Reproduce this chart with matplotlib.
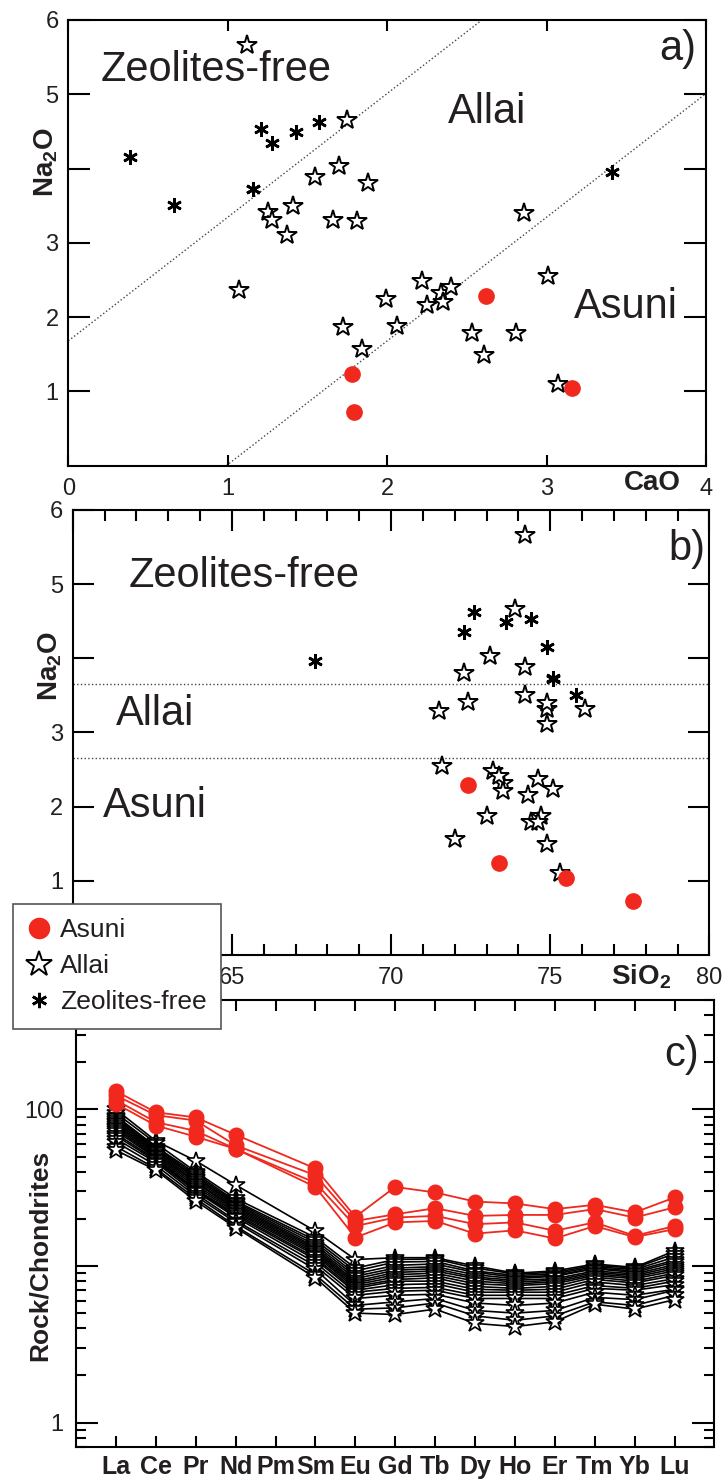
import numpy as np
import matplotlib.pyplot as plt
from matplotlib.lines import Line2D
from matplotlib.ticker import FixedLocator, MultipleLocator, LogLocator, NullFormatter

plt.rcParams['font.family'] = ['Liberation Sans', 'DejaVu Sans']

RED = '#f0281e'
INK = '#231f20'

# ---- panel a / b data (one entry per sample) ----
asuni_cao = [1.78, 1.79, 2.62, 3.16]
asuni_sio2 = [73.4, 77.6, 72.4, 75.5]
asuni_na2o = [1.24, 0.73, 2.29, 1.04]

allai_cao = [1.12, 1.75, 1.70, 1.55, 1.88, 1.25, 1.28, 1.41, 1.66, 1.81, 1.37, 1.07, 2.86, 3.01,
             2.22, 1.99, 2.25, 2.34, 2.35, 2.40, 1.72, 2.06, 1.84, 2.53, 2.81, 2.61, 3.07]
allai_sio2 = [74.2, 73.9, 73.1, 74.2, 72.3, 72.4, 74.9, 74.2, 76.1, 71.5, 74.9, 74.6, 74.9, 71.6,
              73.2, 75.1, 74.3, 73.5, 73.5, 73.4, 73.0, 74.7, 72.0, 74.4, 74.6, 74.9, 75.3]
allai_na2o = [5.66, 4.66, 4.03, 3.88, 3.80, 3.41, 3.31, 3.50, 3.31, 3.29, 3.11, 2.37, 3.40, 2.55,
              2.48, 2.24, 2.16, 2.32, 2.21, 2.41, 1.87, 1.88, 1.57, 1.79, 1.79, 1.49, 1.10]

zeo_cao = [0.39, 0.66, 1.16, 1.16, 1.21, 1.28, 1.43, 1.57, 3.41]
zeo_sio2 = [74.9, 75.8, 75.1, 75.1, 74.4, 72.3, 73.6, 72.6, 67.6]
zeo_na2o = [4.15, 3.51, 3.72, 3.73, 4.53, 4.35, 4.49, 4.63, 3.96]

# boundaries
bound_slope = 1.665
bound_a_upper = 1.68
bound_a_lower = -1.65
bound_b = [3.65, 2.65]

# ---- panel c data (chondrite normalised REE) ----
ree = ['La', 'Ce', 'Pr', 'Nd', 'Pm', 'Sm', 'Eu', 'Gd', 'Tb', 'Dy', 'Ho', 'Er', 'Tm', 'Yb', 'Lu']
ree_measured = [e for e in ree if e != 'Pm']

asuni_ree = [
    [131, 96, 89, 69, 42, 20.6, 32.0, 29.5, 25.8, 25.1, 23.1, 24.6, 22.0, 27.4],
    [123, 92, 85, 59, 38, 19.4, 21.4, 23.4, 20.9, 21.2, 21.2, 23.1, 20.4, 23.7],
    [115, 83, 73, 56, 34, 18.0, 20.4, 20.9, 18.5, 19.0, 16.8, 19.0, 15.6, 18.0],
    [109, 79, 67, 56, 32, 15.2, 19.0, 19.4, 16.1, 16.9, 15.0, 18.0, 15.3, 17.2],
]

allai_ree = [
    [100, 63, 47, 33, 16.7, 11.0, 11.3, 11.3, 10.0, 9.0, 9.3, 10.3, 9.8, 12.5],
    [95, 61, 40, 27, 15.2, 9.7, 11.0, 11.1, 9.7, 8.9, 9.1, 10.1, 9.7, 12.0],
    [91, 58, 39, 26, 14.6, 9.3, 10.6, 10.7, 9.3, 8.7, 8.9, 9.9, 9.5, 11.4],
    [89, 57, 38, 25.5, 14.1, 8.9, 10.1, 10.3, 9.1, 8.5, 8.7, 9.7, 9.3, 10.9],
    [87, 56, 37, 25, 13.6, 8.6, 9.7, 9.9, 8.8, 8.3, 8.6, 9.6, 9.1, 10.6],
    [85, 55, 36.5, 24.5, 13.2, 8.3, 9.4, 9.6, 8.5, 8.1, 8.3, 9.3, 8.9, 10.2],
    [83, 54, 35.5, 24, 12.9, 8.0, 9.1, 9.3, 8.3, 7.9, 8.1, 9.1, 8.7, 9.9],
    [81, 53, 34.5, 23.5, 12.6, 7.8, 8.8, 9.0, 8.0, 7.7, 7.9, 8.9, 8.5, 9.6],
    [79, 52, 34, 23, 12.3, 7.6, 8.5, 8.7, 7.7, 7.5, 7.7, 8.7, 8.3, 9.3],
    [77, 51, 33, 22.5, 12.0, 7.4, 8.2, 8.4, 7.4, 7.2, 7.4, 8.5, 8.0, 9.0],
    [75, 50, 32, 22, 11.7, 7.2, 8.0, 8.0, 7.1, 7.0, 7.1, 8.2, 7.8, 8.7],
    [73, 49, 31, 21.5, 11.3, 7.0, 7.6, 7.7, 6.8, 6.8, 6.8, 7.9, 7.5, 8.3],
    [70, 48, 30.5, 21, 11.0, 6.8, 7.2, 7.3, 6.5, 6.5, 6.5, 7.5, 7.2, 8.0],
    [68, 47, 30, 20.5, 10.5, 6.5, 6.9, 7.0, 6.2, 6.2, 6.2, 7.2, 7.0, 7.6],
    [65, 46, 29, 19.5, 10.0, 6.2, 6.5, 6.6, 5.8, 5.6, 5.8, 6.8, 6.5, 7.1],
    [62, 44, 28, 19, 9.5, 5.6, 5.9, 6.2, 5.2, 5.0, 5.2, 6.3, 6.1, 7.0],
    [58, 42, 27, 18, 8.8, 5.3, 5.4, 5.8, 4.8, 4.5, 4.8, 5.9, 5.6, 6.5],
    [55, 41, 26, 17.6, 8.4, 5.0, 4.9, 5.3, 4.3, 4.1, 4.4, 5.7, 5.3, 6.1],
]

fig = plt.figure(figsize=(7.25, 14.79), dpi=100)


def style_axes(ax):
    for s in ax.spines.values():
        s.set_linewidth(1.5)
    ax.tick_params(which='both', direction='in', top=True, right=True, width=1.5,
                   labelsize=17, labelcolor=INK)


star_kw = dict(ls='none', marker='*', ms=14.5, mfc='white', mec='black', mew=1.4)
ast_kw = dict(ls='none', marker=(6, 2, 0), ms=10.5, mec='black', mew=1.9)
dot_kw = dict(ls='none', marker='o', ms=11, mfc=RED, mec=RED)

# ---------------- a) ----------------
ax = fig.add_axes([0.0942, 0.6851, 0.8796, 0.3014])
style_axes(ax)
ax.axline((0, bound_a_upper), slope=bound_slope, ls=':', color='#444444', lw=1)
ax.axline((0, bound_a_lower), slope=bound_slope, ls=':', color='#444444', lw=1)
ax.plot(allai_cao, allai_na2o, **star_kw)
ax.plot(zeo_cao, zeo_na2o, **ast_kw)
ax.plot(asuni_cao, asuni_na2o, **dot_kw)
ax.set_xlim(0, 4)
ax.set_ylim(0, 6)
ax.set_xticks([0, 1, 2, 3, 4])
ax.set_yticks([1, 2, 3, 4, 5, 6])
ax.set_yticklabels(['1', '2', '3', '', '5', '6'])
ax.tick_params(axis='x', length=8, pad=9)
ax.tick_params(axis='y', length=16, pad=7)
ax.text(0.051, 0.862, 'Zeolites-free', transform=ax.transAxes, fontsize=30, color=INK, va='baseline')
ax.text(0.595, 0.768, 'Allai', transform=ax.transAxes, fontsize=30, color=INK, va='baseline')
ax.text(0.793, 0.331, 'Asuni', transform=ax.transAxes, fontsize=30, color=INK, va='baseline')
ax.text(0.927, 0.910, 'a)', transform=ax.transAxes, fontsize=30, color=INK, va='baseline')
fig.text(652 / 725, 1 - 483 / 1479, 'CaO', ha='center', va='center', fontsize=20,
         fontweight='bold', color=INK)
fig.text(46 / 725, 1 - 162 / 1479, r'Na$_\mathregular{2}$O', ha='center', va='center',
         rotation=90, fontsize=20, fontweight='bold', color=INK)

# ---------------- b) ----------------
ax = fig.add_axes([0.1003, 0.3543, 0.8783, 0.3009])
style_axes(ax)
for yb in bound_b:
    ax.axhline(yb, ls=':', color='#444444', lw=1)
ax.plot(allai_sio2, allai_na2o, **star_kw)
ax.plot(zeo_sio2, zeo_na2o, **ast_kw)
ax.plot(asuni_sio2, asuni_na2o, **dot_kw)
ax.set_xlim(60, 80)
ax.set_ylim(0, 6)
ax.set_xticks([60, 65, 70, 75, 80])
ax.set_xticklabels(['', '65', '70', '75', '80'])
ax.xaxis.set_minor_locator(MultipleLocator(1))
ax.set_yticks([1, 2, 3, 4, 5, 6])
ax.set_yticklabels(['1', '2', '3', '', '5', '6'])
ax.tick_params(axis='x', which='major', length=15, pad=9)
ax.tick_params(axis='x', which='minor', length=7.7)
ax.tick_params(axis='y', length=15, pad=7)
ax.text(0.088, 0.828, 'Zeolites-free', transform=ax.transAxes, fontsize=30, color=INK, va='baseline')
ax.text(0.0675, 0.517, 'Allai', transform=ax.transAxes, fontsize=30, color=INK, va='baseline')
ax.text(0.047, 0.311, 'Asuni', transform=ax.transAxes, fontsize=30, color=INK, va='baseline')
ax.text(0.936, 0.888, 'b)', transform=ax.transAxes, fontsize=30, color=INK, va='baseline')
fig.text(641 / 725, 1 - 977 / 1479, r'SiO$_\mathregular{2}$', ha='center', va='center', fontsize=20,
         fontweight='bold', color=INK)
fig.text(50 / 725, 1 - 666 / 1479, r'Na$_\mathregular{2}$O', ha='center', va='center',
         rotation=90, fontsize=20, fontweight='bold', color=INK)

# ---------------- c) ----------------
ax = fig.add_axes([0.1048, 0.0218, 0.8807, 0.3020])
style_axes(ax)
ax.set_yscale('log')
xpos = [ree.index(e) + 1 for e in ree_measured]
for row in allai_ree:
    ax.plot(xpos, row, color='black', lw=1.2, marker='*', ms=13.5, mfc='white', mec='black', mew=1.2)
for row in asuni_ree:
    ax.plot(xpos, row, color=RED, lw=1.3, marker='o', ms=10.5, mfc=RED, mec=RED)
ax.set_xlim(0, 16)
ax.set_ylim(0.7, 500)
ax.set_xticks(range(1, len(ree) + 1))
ax.set_xticklabels(ree, fontsize=18, fontweight='bold', color=INK)
ax.yaxis.set_major_locator(FixedLocator([1, 10, 100]))
ax.set_yticklabels(['1', '', '100'])
ax.yaxis.set_minor_locator(LogLocator(base=10, subs=np.arange(2, 10)))
ax.yaxis.set_minor_formatter(NullFormatter())
ax.tick_params(axis='x', length=8, pad=6)
ax.tick_params(axis='y', which='major', length=16, pad=9)
ax.tick_params(axis='y', which='minor', length=7.5)
ax.text(0.922, 0.852, 'c)', transform=ax.transAxes, fontsize=30, color=INK, va='baseline')
fig.text(40 / 725, 1 - 1255 / 1479, 'Rock/Chondrites', ha='center', va='center',
         rotation=90, fontsize=19, fontweight='bold', color=INK)

# ---------------- legend ----------------
handles = [
    Line2D([], [], ls='none', marker='o', ms=14.5, mfc=RED, mec=RED, label='Asuni'),
    Line2D([], [], ls='none', marker='*', ms=19, mfc='white', mec='black', mew=1.4, label='Allai'),
    Line2D([], [], ls='none', marker=(6, 2, 0), ms=11, mec='black', mew=1.9, label='Zeolites-free'),
]
leg = fig.legend(handles=handles, loc='upper left', bbox_to_anchor=(0.0175, 0.3888),
                 bbox_transform=fig.transFigure, borderaxespad=0, fontsize=19, frameon=True,
                 fancybox=False, edgecolor='#555555', framealpha=1, borderpad=0.55,
                 handlelength=0.9, handletextpad=0.35, labelspacing=0.45, labelcolor=INK)
leg.get_frame().set_linewidth(1.2)

fig.savefig('out.png', dpi=100)
